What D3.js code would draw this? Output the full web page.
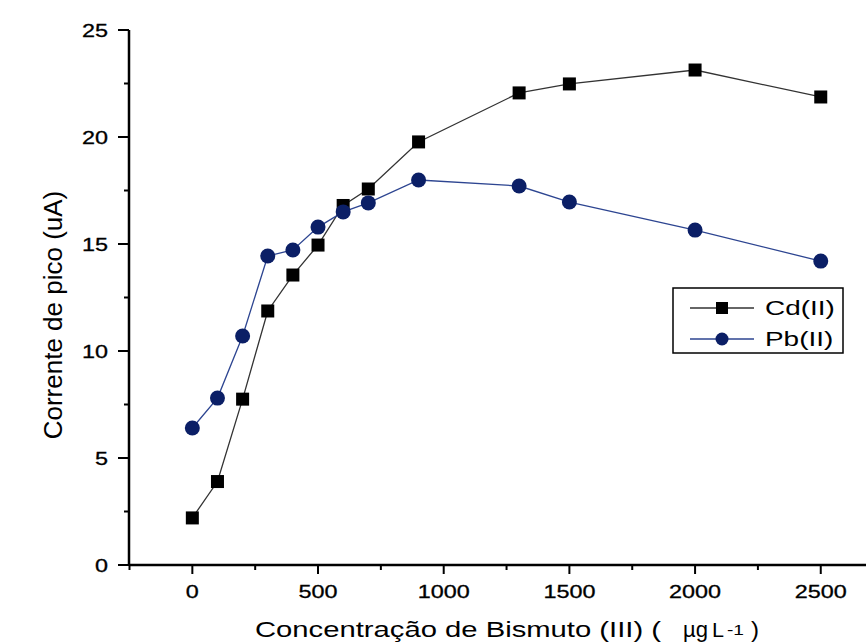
<!DOCTYPE html>
<html><head><meta charset="utf-8">
<script src="https://cdn.jsdelivr.net/npm/d3@7/dist/d3.min.js"></script>
<style>body{margin:0;background:#fff;}svg{display:block;font-family:Arial,"Liberation Sans",sans-serif;}text.tk{stroke:#000;stroke-width:0.3px;}</style>
</head><body>
<svg id="c" width="866" height="643"></svg>
<script>
const concentrations = [0, 100, 200, 300, 400, 500, 600, 700, 900, 1300, 1500, 2000, 2500];
const cdValues = [2.2, 3.9, 7.75, 11.87, 13.55, 14.95, 16.8, 17.57, 19.77, 22.06, 22.48, 23.13, 21.87];
const pbValues = [6.4, 7.8, 10.7, 14.44, 14.72, 15.79, 16.5, 16.92, 17.99, 17.71, 16.96, 15.65, 14.2];
const xTicks = [0, 500, 1000, 1500, 2000, 2500];
const yTicks = [0, 5, 10, 15, 20, 25];
const seriesNames = ["Cd(II)", "Pb(II)"];

const svg = d3.select("#c");
const x = d3.scaleLinear().domain([-250, 2680]).range([129.5, 866]);
const y = d3.scaleLinear().domain([0, 25]).range([565, 30]);
const SX = 1.3;

const xMinor = d3.range(-250, 2751, 500);
const yMinor = d3.range(2.5, 25, 5);

const gx = svg.append("g").attr("transform", "translate(0,565)");
gx.append("line").attr("x1", 129).attr("x2", 866).attr("stroke", "#000").attr("stroke-width", 2.5);
gx.selectAll(".mj").data(xTicks).join("line").attr("x1", d => x(d)).attr("x2", d => x(d)).attr("y1", 0).attr("y2", 9).attr("stroke", "#000").attr("stroke-width", 2);
gx.selectAll(".mn").data(xMinor).join("line").attr("x1", d => x(d)).attr("x2", d => x(d)).attr("y1", 0).attr("y2", 5).attr("stroke", "#000").attr("stroke-width", 2);
gx.selectAll("text").data(xTicks).join("text").attr("class", "tk")
  .attr("transform", d => `translate(${x(d)},33) scale(${SX},1)`)
  .attr("text-anchor", "middle").attr("font-size", 18).attr("fill", "#000").text(d => d);

const gy = svg.append("g").attr("transform", "translate(129,0)");
gy.append("line").attr("y1", 30).attr("y2", 566).attr("stroke", "#000").attr("stroke-width", 2.5);
gy.selectAll(".mj").data(yTicks).join("line").attr("y1", d => y(d)).attr("y2", d => y(d)).attr("x1", 0).attr("x2", -11).attr("stroke", "#000").attr("stroke-width", 2);
gy.selectAll(".mn").data(yMinor).join("line").attr("y1", d => y(d)).attr("y2", d => y(d)).attr("x1", 0).attr("x2", -5).attr("stroke", "#000").attr("stroke-width", 2);
gy.selectAll("text").data(yTicks).join("text").attr("class", "tk")
  .attr("transform", d => `translate(-21,${y(d) + 6.5}) scale(${SX},1)`)
  .attr("text-anchor", "end").attr("font-size", 18).attr("fill", "#000").text(d => d);

// axis titles
svg.append("text").attr("transform", "translate(62,315) rotate(-90)").attr("text-anchor", "middle").attr("font-size", 26).attr("fill", "#000").text("Corrente de pico (uA)");
const xtParts = [
  {t: "Concentração de Bismuto (III) (", x: 255, len: 406, fs: 22, dy: 0},
  {t: "µg", x: 683, len: 25, fs: 22, dy: 0},
  {t: "L", x: 712, len: 12, fs: 21, dy: 0},
  {t: "-1", x: 727, len: 17, fs: 15, dy: -2},
  {t: ")", x: 751, len: 8, fs: 22, dy: 0}
];
svg.selectAll(".xt").data(xtParts).join("text").attr("class", "xt")
  .attr("x", d => d.x).attr("y", d => 637 + d.dy).attr("font-size", d => d.fs)
  .attr("textLength", d => d.len).attr("lengthAdjust", "spacingAndGlyphs")
  .attr("fill", "#000").text(d => d.t);

const line = d3.line().x(d => x(d[0])).y(d => y(d[1]));
const cd = concentrations.map((c, i) => [c, cdValues[i]]);
const pb = concentrations.map((c, i) => [c, pbValues[i]]);

svg.append("path").datum(cd).attr("d", line).attr("fill", "none").attr("stroke", "#333").attr("stroke-width", 1.3);
svg.append("path").datum(pb).attr("d", line).attr("fill", "none").attr("stroke", "#2d4591").attr("stroke-width", 1.3);

const s = 13;
svg.selectAll(".cd").data(cd).join("rect").attr("x", d => x(d[0]) - s/2).attr("y", d => y(d[1]) - s/2).attr("width", s).attr("height", s).attr("fill", "#000");
svg.selectAll(".pb").data(pb).join("circle").attr("cx", d => x(d[0])).attr("cy", d => y(d[1])).attr("r", 7.5).attr("fill", "#0b1f66");

// legend
const lg = svg.append("g");
lg.append("rect").attr("x", 673).attr("y", 288).attr("width", 170).attr("height", 65).attr("fill", "#fff").attr("stroke", "#000").attr("stroke-width", 1.5);
lg.append("line").attr("x1", 690).attr("x2", 754).attr("y1", 308).attr("y2", 308).attr("stroke", "#333").attr("stroke-width", 1.3);
lg.append("rect").attr("x", 716).attr("y", 302).attr("width", 12).attr("height", 12).attr("fill", "#000");
lg.append("line").attr("x1", 690).attr("x2", 754).attr("y1", 339).attr("y2", 339).attr("stroke", "#2d4591").attr("stroke-width", 1.3);
lg.append("circle").attr("cx", 722).attr("cy", 339).attr("r", 6.5).attr("fill", "#0b1f66");
lg.selectAll("text").data(seriesNames).join("text")
  .attr("transform", (d, i) => `translate(765,${315 + i * 31}) scale(1.33,1)`)
  .attr("font-size", 21).attr("fill", "#000").text(d => d);
</script>
</body></html>
